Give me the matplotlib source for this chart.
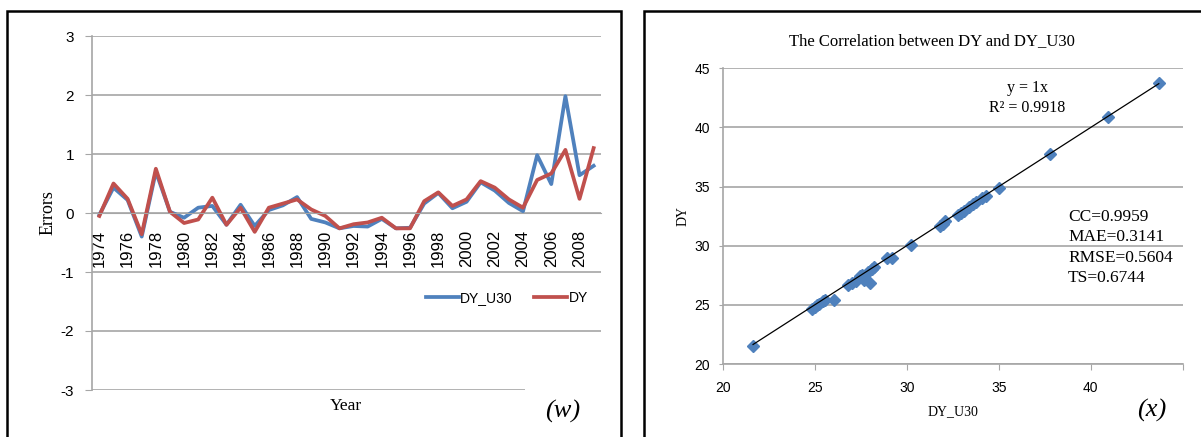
import matplotlib
matplotlib.use("Agg")
import matplotlib.pyplot as plt
from matplotlib.patches import Rectangle

# error series per year (panel w)
years = list(range(1974, 2010))
err_dy_u30 = [-0.03, 0.43, 0.22, -0.40, 0.70, 0.02, -0.08, 0.09, 0.12, -0.20,
              0.14, -0.22, 0.05, 0.13, 0.27, -0.10, -0.16, -0.26, -0.22, -0.23,
              -0.10, -0.26, -0.25, 0.16, 0.34, 0.08, 0.19, 0.52, 0.38, 0.17,
              0.03, 0.98, 0.49, 1.98, 0.64, 0.80]
err_dy = [-0.05, 0.50, 0.24, -0.36, 0.75, 0.02, -0.17, -0.11, 0.26, -0.20,
          0.09, -0.32, 0.09, 0.16, 0.23, 0.06, -0.05, -0.26, -0.19, -0.16,
          -0.08, -0.26, -0.26, 0.20, 0.35, 0.12, 0.23, 0.54, 0.43, 0.23,
          0.09, 0.56, 0.67, 1.07, 0.24, 1.10]

# DY_U30 vs DY scatter (panel x)
dy_u30 = [21.65, 24.83, 25.02, 25.15, 25.25, 25.47, 25.56, 26.05, 26.83, 27.01,
          27.24, 27.46, 27.55, 27.70, 27.91, 28.00, 28.10, 28.20, 28.91, 29.18,
          30.22, 31.80, 31.95, 32.08, 32.80, 32.95, 33.10, 33.40, 33.60, 33.75,
          34.10, 34.30, 35.00, 37.80, 40.95, 43.70]
dy = [21.54, 24.62, 24.85, 25.00, 25.05, 25.30, 25.45, 25.45, 26.72, 26.85,
      27.04, 27.40, 27.52, 27.10, 27.80, 26.88, 28.05, 28.20, 28.98, 28.95,
      30.02, 31.68, 31.85, 32.05, 32.62, 32.80, 32.95, 33.30, 33.50, 33.68,
      34.02, 34.18, 34.90, 37.75, 40.85, 43.75]
slope = 1
r_squared = 0.9918
stats_text = "CC=0.9959\nMAE=0.3141\nRMSE=0.5604\nTS=0.6744"

W, H = 1201, 437
BLUE = "#4F81BD"
RED = "#C0504D"
GRID = "#A6A6A6"
SERIF = "Liberation Serif"

plt.rcParams["font.family"] = "Liberation Sans"
plt.rcParams["axes.unicode_minus"] = False


def fx(px):
    return px / W


def fy(py):
    return 1 - py / H


def frame(fig, x0, y0, x1, y1):
    fig.add_artist(Rectangle((fx(x0), fy(y1)), (x1 - x0) / W, (y1 - y0) / H,
                             transform=fig.transFigure, fill=False,
                             edgecolor="black", lw=1.8, zorder=5, clip_on=False))


def plot_errors(fig):
    ax = fig.add_axes([fx(92.3), fy(390), (600.7 - 92.3) / W, (390 - 36) / H])
    # category axis crosses at zero; set before ticks (set_position resets them)
    for side in ("top", "right"):
        ax.spines[side].set_visible(False)
    ax.spines["bottom"].set_position(("data", 0))
    ax.spines["bottom"].set_color(GRID)
    ax.spines["left"].set_color(GRID)
    ax.spines["left"].set_linewidth(1.2)

    x = list(range(len(years)))
    ax.plot(x, err_dy_u30, color=BLUE, lw=2.7, label="DY_U30")
    ax.plot(x, err_dy, color=RED, lw=2.7, label="DY")

    ax.set_xlim(-0.5, len(years) - 0.5)
    ax.set_ylim(-3, 3)
    ax.set_yticks(range(-3, 4))
    ax.set_xticks(x[::2])
    ax.set_xticklabels([str(y) for y in years[::2]])
    ax.yaxis.grid(True, color=GRID, lw=1.2)
    ax.set_axisbelow(True)
    ax.tick_params(axis="x", length=0, pad=12, labelsize=12, labelrotation=90)
    ax.tick_params(axis="y", length=5, color=GRID, pad=8, labelsize=11)

    ax.set_ylabel("Errors", family=SERIF, fontsize=13)
    ax.yaxis.label.set_va("center")
    ax.yaxis.set_label_coords((48 - 92.3) / 508.4, 0.5)
    ax.set_xlabel("Year", family=SERIF, fontsize=12.5)
    ax.xaxis.label.set_va("center")
    ax.xaxis.set_label_coords((346 - 92.3) / 508.4, (390 - 406) / 354)

    ax.legend(loc="center", bbox_to_anchor=(0.815, 0.26), ncol=2, frameon=False,
              fontsize=10, handlelength=2.4, handletextpad=0.1, columnspacing=1.5)

    # white box behind the panel tag
    fig.add_artist(Rectangle((fx(525), fy(432)), 90 / W, 46 / H,
                             transform=fig.transFigure, facecolor="white",
                             edgecolor="none", zorder=3))
    fig.text(fx(563), fy(411), "(w)", family=SERIF, style="italic", fontsize=19,
             ha="center", va="center", zorder=4)


def plot_correlation(fig):
    ax = fig.add_axes([fx(722.7), fy(364), 460 / W, (364 - 68.3) / H])
    ax.plot(dy_u30, dy, ls="none", marker="D", ms=6.5, color=BLUE, zorder=2)
    xs = [min(dy_u30), max(dy_u30)]
    ax.plot(xs, [slope * v for v in xs], color="black", lw=0.9, zorder=3)

    ax.set_xlim(20, 45)
    ax.set_ylim(20, 45)
    ax.set_xticks(range(20, 46, 5))
    ax.set_xticklabels(["20", "25", "30", "35", "40", ""])
    ax.set_yticks(range(20, 46, 5))
    ax.yaxis.grid(True, color=GRID, lw=1.2)
    ax.set_axisbelow(True)
    for side in ("top", "right"):
        ax.spines[side].set_visible(False)
    for side in ("left", "bottom"):
        ax.spines[side].set_color(GRID)
        ax.spines[side].set_linewidth(1.2)
    ax.tick_params(axis="x", length=4, color=GRID, pad=8, labelsize=10)
    ax.tick_params(axis="y", length=3, color=GRID, pad=6, labelsize=10)

    ax.set_title("The Correlation between DY and DY_U30", family=SERIF,
                 fontsize=12, pad=17, x=(932 - 722.7) / 460)
    ax.set_ylabel("DY", family=SERIF, fontsize=10)
    ax.yaxis.label.set_va("center")
    ax.yaxis.set_label_coords((683.5 - 722.7) / 460, 0.5)
    ax.set_xlabel("DY_U30", family=SERIF, fontsize=10)
    ax.xaxis.label.set_va("center")
    ax.xaxis.set_label_coords(0.5, (364 - 412) / 295.7)

    ax.text(36.55, 42.5, f"y = {slope}x\nR² = {r_squared}", family=SERIF,
            fontsize=11.5, ha="center", va="center", linespacing=1.3)
    ax.text(38.77, 29.85, stats_text, family=SERIF, fontsize=12.5,
            ha="left", va="center", linespacing=1.36)

    fig.text(fx(1152), fy(410), "(x)", family=SERIF, style="italic", fontsize=19,
             ha="center", va="center")


def main():
    fig = plt.figure(figsize=(W / 100, H / 100), dpi=100)
    frame(fig, 7, 11, 620.7, 445)
    frame(fig, 644, 11, 1210, 445)
    plot_errors(fig)
    plot_correlation(fig)
    fig.savefig("out.png", dpi=100)
    plt.close(fig)


if __name__ == "__main__":
    main()
